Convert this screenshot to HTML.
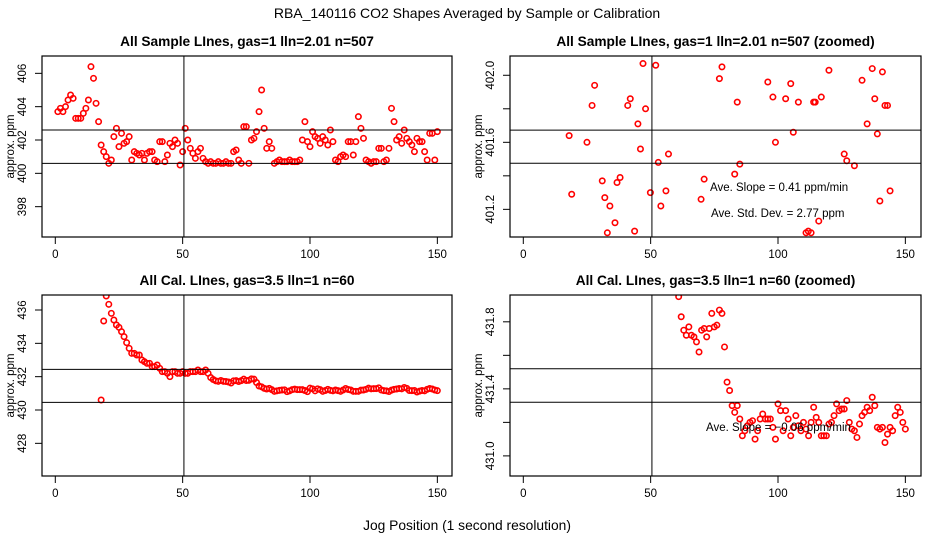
<!DOCTYPE html>
<html><head><meta charset="utf-8"><style>
html,body{margin:0;padding:0;background:#fff;}
svg{display:block;font-family:"Liberation Sans",sans-serif;}
</style></head><body>
<svg id="chart" width="936" height="540" xmlns="http://www.w3.org/2000/svg">
<text x="467" y="18" text-anchor="middle" font-size="14">RBA_140116  CO2 Shapes Averaged by Sample or Calibration</text>
<text x="467" y="530" text-anchor="middle" font-size="13.8">Jog Position (1 second resolution)</text>
</svg>
<script>
// ---- data ----
const sampleX = [];
for (let i = 1; i <= 150; i++) sampleX.push(i);
const sampleY = [403.7,403.9,403.7,404.0,404.4,404.7,404.5,403.3,403.3,403.3,403.6,403.9,404.4,406.4,405.7,404.2,403.1,401.7,401.3,401.0,
400.6,400.8,402.2,402.7,401.6,402.4,401.8,401.9,402.2,400.8,401.3,401.2,401.1,401.2,400.8,401.2,401.3,401.3,400.8,400.7,
401.9,401.9,400.7,401.1,401.8,401.6,402.0,401.8,400.5,401.3,402.7,402.0,401.5,401.2,400.9,401.3,401.5,400.9,400.7,400.6,
400.7,400.6,400.6,400.7,400.6,400.6,400.7,400.6,400.6,401.3,401.4,400.8,400.6,402.8,402.8,400.6,402.0,402.1,402.5,403.7,
405.0,402.7,401.5,401.9,401.5,400.6,400.7,400.8,400.7,400.7,400.7,400.8,400.7,400.7,400.7,400.8,402.0,403.1,401.9,401.6,
402.5,402.2,402.1,401.8,402.2,402.0,401.7,402.6,401.9,400.8,400.7,401.0,401.1,401.0,401.9,401.9,401.1,401.9,403.4,402.7,
402.1,400.8,400.7,400.6,400.7,400.7,401.5,401.5,400.7,400.8,401.5,403.9,403.1,402.0,402.2,401.8,402.6,402.1,401.9,401.7,
401.3,402.1,401.9,401.9,401.3,400.8,402.4,402.4,400.8,402.5];
const zoomX = [18,19,25,27,28,31,32,33,34,36,36.8,38,41,42,43.7,45,46,47,48,49.9,52,53,54,56,57,69.8,71,77,78,83,84,85,96,98,99,103,105,106,108,111,111.9,113,114,114.6,116,117,120,126,127,130,133,135,137,138,139,140,141,142,143,144];
const zoomY = [401.64,401.29,401.6,401.82,401.94,401.37,401.27,401.06,401.22,401.12,401.36,401.39,401.82,401.86,401.07,401.71,401.56,402.07,401.8,401.3,402.06,401.48,401.22,401.31,401.53,401.26,401.38,401.98,402.05,401.41,401.84,401.47,401.96,401.87,401.6,401.86,401.95,401.66,401.84,401.06,401.07,401.06,401.84,401.84,401.13,401.87,402.03,401.53,401.49,401.46,401.97,401.71,402.04,401.86,401.65,401.25,402.02,401.82,401.82,401.31];
const calX = [];
for (let i = 18; i <= 150; i++) calX.push(i);
const calY = [430.6,435.34,436.84,436.34,435.8,435.4,435.1,434.96,434.7,434.4,434.04,433.7,433.4,433.4,433.3,433.3,433.0,432.9,432.8,432.8,
432.6,432.6,432.7,432.5,432.3,432.3,432.2,432.0,432.3,432.3,432.2,432.2,432.3,432.2,432.2,432.3,432.3,432.3,432.4,432.3,
432.3,432.4,432.2,
431.95,431.83,431.75,431.72,431.77,431.72,431.71,431.68,431.62,431.75,431.76,431.71,431.76,431.85,431.77,431.78,431.87,431.85,431.65,
431.44,431.39,431.30,431.26,431.30,431.22,431.12,431.15,431.18,431.20,431.21,431.10,431.15,431.22,431.25,431.22,431.22,431.22,
431.17,431.10,431.31,431.27,431.15,431.27,431.22,431.12,431.17,431.24,431.18,431.15,431.20,431.16,431.12,431.20,431.29,431.23,431.20,
431.12,431.12,431.12,431.19,431.20,431.24,431.31,431.27,431.28,431.28,431.33,431.20,431.16,431.15,431.11,431.19,431.24,431.26,431.29,
431.27,431.35,431.30,431.17,431.16,431.17,431.08,431.13,431.17,431.15,431.24,431.29,431.26,431.20,431.16];
const xTicks = [0,50,100,150];
const tlTicks = [398,400,402,404,406];
const trTicks = [401.2,401.4,401.6,401.8,402.0];
const trLabels = ["401.2","","401.6","","402.0"];
const blTicks = [428,430,432,434,436];
const brTicks = [431.0,431.2,431.4,431.6,431.8];
const brLabels = ["431.0","","431.4","","431.8"];

const NS = "http://www.w3.org/2000/svg";
const svg = document.getElementById('chart');
function mk(tag, attrs, parent) {
  const e = document.createElementNS(NS, tag);
  for (const k in attrs) e.setAttribute(k, attrs[k]);
  (parent || svg).appendChild(e);
  return e;
}
let clipN = 0;
function panel(cfg) {
  const g = mk('g', {});
  
  
  const L = cfg.left, R = cfg.right, T = cfg.top, B = cfg.bottom;
  const x0px = L + 13.3, kx = 2.547;
  const sx = v => x0px + v * kx;
  const sy = v => T + (cfg.ymax - v) / (cfg.ymax - cfg.ymin) * (B - T);
  const t = mk('text', {x: (L + R) / 2, y: T - 10, 'text-anchor': 'middle', 'font-size': 13.7, 'font-weight': 'bold'}, g);
  t.textContent = cfg.title;
  
  
  const cid = 'clip' + (clipN++);
  const cp = mk('clipPath', {id: cid}, g);
  mk('rect', {x: L, y: T, width: R - L, height: B - T}, cp);
  const pg = mk('g', {'clip-path': 'url(#' + cid + ')'}, g);
  for (let i = 0; i < cfg.xs.length; i++) {
    const c = mk('circle', {cx: sx(cfg.xs[i]), cy: sy(cfg.ys[i]), r: 2.7, fill: 'none', stroke: '#f00', 'stroke-width': 1.6}, pg);
    
    
  }
  const vl = mk('line', {x1: sx(cfg.vline), x2: sx(cfg.vline), y1: T, y2: B, stroke: '#000', 'stroke-width': 1}, g);
  
  
  cfg.hlines.forEach(h => {
    const hl = mk('line', {x1: L, x2: R, y1: sy(h), y2: sy(h), stroke: '#000', 'stroke-width': 1}, g);
    
    
  });
  const box = mk('rect', {x: L, y: T, width: R - L, height: B - T, fill: 'none', stroke: '#000', 'stroke-width': 1.2}, g);
  
  
  xTicks.forEach(v => {
    mk('line', {x1: sx(v), x2: sx(v), y1: B, y2: B + 7, stroke: '#000'}, g);
    const tx = mk('text', {x: sx(v), y: B + 21, 'text-anchor': 'middle', 'font-size': 11.5}, g);
    tx.textContent = v;
    
    
  });
  cfg.yticks.forEach((v, i) => {
    mk('line', {x1: L - 7, x2: L, y1: sy(v), y2: sy(v), stroke: '#000'}, g);
    const lab = cfg.ylabels ? cfg.ylabels[i] : String(v);
    if (lab) {
      const ty = mk('text', {x: 0, y: 0, 'text-anchor': 'middle', 'font-size': 11.5, transform: 'translate(' + (L - 16) + ',' + sy(v) + ') rotate(-90)'}, g);
      ty.textContent = lab;
      
      
    }
  });
  const yt = mk('text', {x: 0, y: 0, 'text-anchor': 'middle', 'font-size': 11.5, transform: 'translate(' + (L - 28) + ',' + ((T + B) / 2) + ') rotate(-90)'}, g);
  yt.textContent = 'approx. ppm';
  
  
  (cfg.notes || []).forEach(n => {
    const nt = mk('text', {x: n[0], y: n[1], 'font-size': 11.5}, g);
    nt.textContent = n[2];
    
    
  });
}
panel({name: 'sample-lines-panel', title: 'All Sample LInes, gas=1 lln=2.01 n=507', left: 42, right: 452, top: 56, bottom: 237,
  ymin: 396.18, ymax: 407.04, xs: sampleX, ys: sampleY, vline: 50.5, hlines: [402.6, 400.6], yticks: tlTicks});
panel({name: 'sample-lines-zoomed-panel', title: 'All Sample LInes, gas=1 lln=2.01 n=507 (zoomed)', left: 510, right: 921, top: 56, bottom: 237,
  ymin: 401.035, ymax: 402.115, xs: zoomX, ys: zoomY, vline: 50.5, hlines: [401.673, 401.475], yticks: trTicks, ylabels: trLabels,
  notes: [[710, 191, 'Ave. Slope =  0.41  ppm/min'], [711, 217, 'Ave. Std. Dev. =  2.77  ppm']]});
panel({name: 'cal-lines-panel', title: 'All Cal. LInes, gas=3.5 lln=1 n=60', left: 42, right: 452, top: 295, bottom: 476,
  ymin: 426.04, ymax: 436.9, xs: calX, ys: calY, vline: 50.5, hlines: [432.44, 430.46], yticks: blTicks});
panel({name: 'cal-lines-zoomed-panel', title: 'All Cal. LInes, gas=3.5 lln=1 n=60 (zoomed)', left: 510, right: 921, top: 295, bottom: 476,
  ymin: 430.88, ymax: 431.96, xs: calX, ys: calY, vline: 50.5, hlines: [431.52, 431.32], yticks: brTicks, ylabels: brLabels,
  notes: [[706, 431, 'Ave. Slope = \u22120.06  ppm/min']]});
</script>
</body></html>
